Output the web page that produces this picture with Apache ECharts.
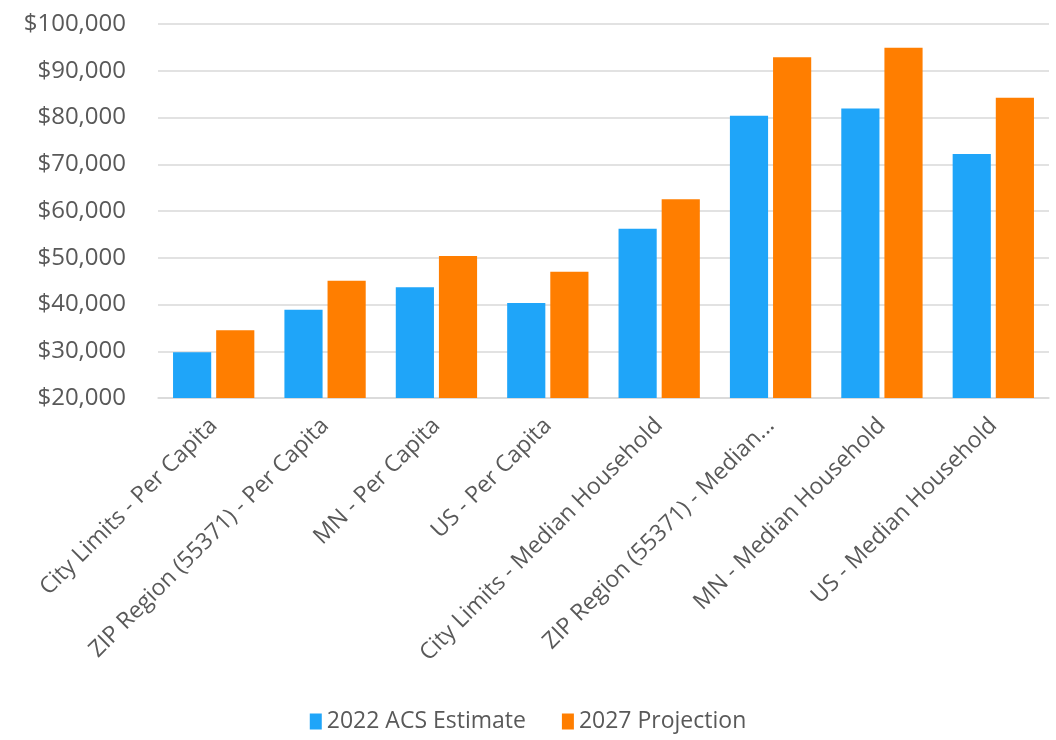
<!DOCTYPE html>
<html>
<head>
<meta charset="utf-8">
<script src="https://cdn.jsdelivr.net/npm/echarts@6/dist/echarts.min.js"></script>
<style>
html,body{margin:0;padding:0;background:#fff;}
#chart{width:1056px;height:740px;}
</style>
</head>
<body>
<div id="chart"></div>
<script>
const categories = [
  "City Limits - Per Capita",
  "ZIP Region (55371) - Per Capita",
  "MN - Per Capita",
  "US - Per Capita",
  "City Limits - Median Household",
  "ZIP Region (55371) - Median Household",
  "MN - Median Household",
  "US - Median Household"
];
const seriesNames = ["2022 ACS Estimate", "2027 Projection"];
const acs2022 = [29800, 38900, 43700, 40300, 56200, 80400, 81900, 72200];
const proj2027 = [34500, 45100, 50400, 47000, 62500, 92900, 94900, 84200];
const yTicks = { min: 20000, max: 100000, interval: 10000 };

const font = "'Open Sans', 'Noto Sans', sans-serif";
const chart = echarts.init(document.getElementById('chart'));
chart.setOption({
  animation: false,
  textStyle: { fontFamily: font },
  grid: { left: 158, right: 7, top: 24, bottom: 342, containLabel: false },
  legend: {
    bottom: 2,
    left: 'center',
    itemWidth: 12,
    itemHeight: 16,
    itemGap: 36,
    icon: 'rect',
    textStyle: { fontFamily: font, fontSize: 23, color: '#595959' },
    data: seriesNames
  },
  xAxis: {
    type: 'category',
    data: categories,
    axisLine: { lineStyle: { color: '#d9d9d9', width: 1.5 } },
    axisTick: { show: false },
    axisLabel: {
      rotate: 45,
      interval: 0,
      margin: 24,
      fontFamily: font,
      fontSize: 23,
      color: '#595959',
      formatter: function (v) { return v.length > 31 ? v.slice(0, 27) + '...' : v; }
    }
  },
  yAxis: {
    type: 'value',
    min: yTicks.min,
    max: yTicks.max,
    interval: yTicks.interval,
    axisLine: { show: false },
    axisTick: { show: false },
    splitLine: { lineStyle: { color: '#d9d9d9', width: 1.5 } },
    axisLabel: {
      margin: 32,
      fontFamily: font,
      fontSize: 24,
      color: '#595959',
      formatter: function (v) { return '$' + v.toLocaleString('en-US'); }
    }
  },
  series: [
    {
      name: seriesNames[0],
      type: 'bar',
      data: acs2022,
      barGap: '13%',
      barCategoryGap: '27%',
      itemStyle: { color: '#1fa5f9' }
    },
    {
      name: seriesNames[1],
      type: 'bar',
      data: proj2027,
      itemStyle: { color: '#ff7e00' }
    }
  ]
});
</script>
</body>
</html>
